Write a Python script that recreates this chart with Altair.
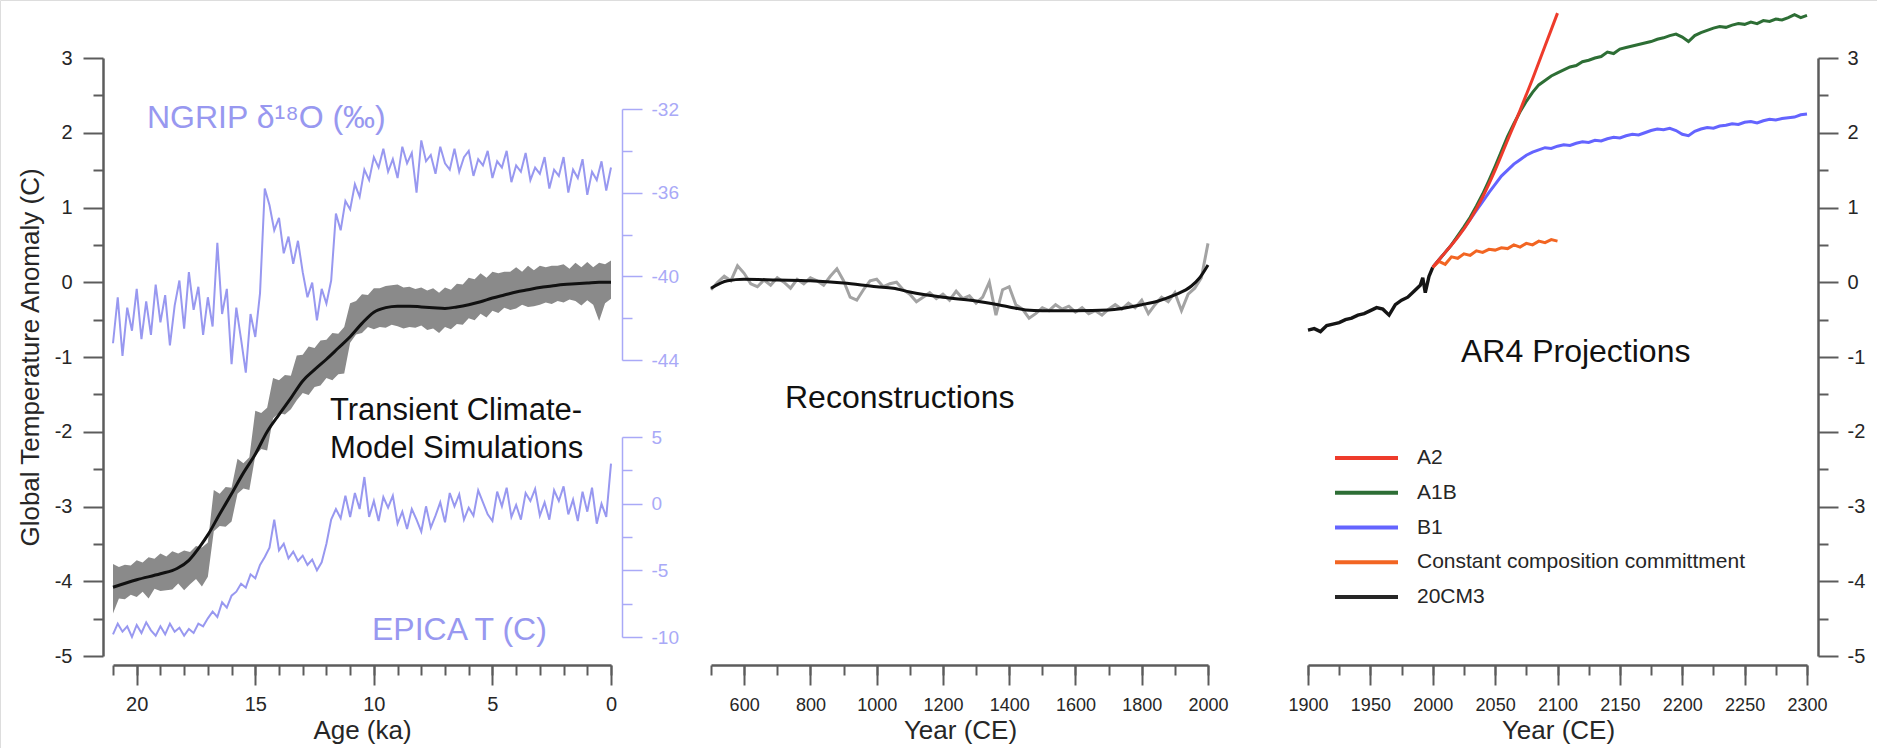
import altair as alt
import pandas as pd

FONT = "Liberation Sans"
AXIS_GRAY = "#5c5c5c"
LABEL = "#262626"
LAV = "#9898f0"
LAV_AXIS = "#a9a9f7"

# ---------------- Left panel: transient model simulations ----------------
band_ka = [round(21.0 - 0.25 * i, 2) for i in range(85)]
band_lower = [-4.43, -4.23, -4.24, -4.18, -4.21, -4.14, -4.23, -4.10, -4.13, -4.12,
              -4.11, -4.03, -4.12, -4.04, -3.97, -4.07, -3.94, -3.33, -3.26, -3.27,
              -3.20, -2.83, -2.76, -2.78, -2.32, -2.23, -2.25, -1.82, -1.75, -1.77,
              -1.70, -1.58, -1.48, -1.51, -1.40, -1.38, -1.28, -1.31, -1.23, -1.22,
              -0.81, -0.70, -0.68, -0.60, -0.63, -0.60, -0.61, -0.57, -0.59, -0.62,
              -0.60, -0.61, -0.58, -0.64, -0.62, -0.68, -0.60, -0.63, -0.56, -0.57,
              -0.48, -0.51, -0.42, -0.47, -0.38, -0.41, -0.34, -0.37, -0.35, -0.30,
              -0.33, -0.32, -0.30, -0.27, -0.29, -0.25, -0.27, -0.23, -0.25, -0.31,
              -0.24, -0.30, -0.52, -0.28, -0.22]
band_upper = [-3.77, -3.81, -3.78, -3.79, -3.72, -3.75, -3.68, -3.70, -3.63, -3.67,
              -3.60, -3.63, -3.59, -3.61, -3.53, -3.55, -3.48, -2.78, -2.83, -2.74,
              -2.75, -2.36, -2.42, -2.34, -1.72, -1.75, -1.68, -1.28, -1.31, -1.24,
              -1.25, -0.98, -0.97, -0.86, -0.88, -0.78, -0.77, -0.68, -0.69, -0.60,
              -0.28, -0.25, -0.16, -0.17, -0.08, -0.08, -0.05, -0.04, -0.03, -0.07,
              -0.06, -0.09, -0.07, -0.11, -0.08, -0.14, -0.07, -0.10, -0.02, -0.03,
              0.06, 0.04, 0.12, 0.06, 0.14, 0.12, 0.14, 0.14, 0.20, 0.14,
              0.22, 0.16, 0.22, 0.20, 0.22, 0.22, 0.24, 0.18, 0.26, 0.20,
              0.27, 0.20, 0.26, 0.24, 0.29]

model_ka = [21, 20, 19, 18.3, 17.8, 17.3, 17.0, 16.5, 16, 15.5, 15, 14.5, 14, 13.5,
            13, 12.5, 12, 11.5, 11, 10.5, 10, 9.5, 9, 8.5, 8, 7.5, 7, 6.5, 6, 5.5,
            5, 4.5, 4, 3.5, 3, 2.5, 2, 1.5, 1, 0.5, 0]
model_temp = [-4.08, -3.98, -3.90, -3.83, -3.72, -3.52, -3.38, -3.10, -2.83, -2.55,
              -2.30, -2.00, -1.77, -1.55, -1.32, -1.17, -1.03, -0.88, -0.73, -0.55,
              -0.40, -0.34, -0.32, -0.32, -0.33, -0.34, -0.35, -0.33, -0.30, -0.26,
              -0.21, -0.17, -0.13, -0.10, -0.07, -0.05, -0.03, -0.02, -0.01, 0.00, 0.00]

proxy_ka = [round(21.0 - 0.2 * i, 1) for i in range(106)]
ngrip_d18o = [-43.2, -41.0, -43.8, -41.5, -42.6, -40.6, -43.0, -41.2, -42.8, -40.4,
              -42.2, -40.9, -43.3, -41.4, -40.2, -42.5, -39.8, -41.6, -40.5, -42.8,
              -41.0, -42.4, -38.4, -41.8, -40.6, -44.2, -41.5, -43.0, -44.6, -41.8,
              -42.9, -40.8, -35.8, -36.6, -37.8, -37.2, -38.9, -38.1, -39.4, -38.3,
              -39.8, -41.0, -40.3, -42.1, -40.6, -41.3, -40.2, -37.0, -37.8, -36.4,
              -36.8, -35.6, -36.2, -34.9, -35.4, -34.3, -34.8, -33.9, -35.0, -34.4,
              -35.3, -33.8, -34.6, -34.1, -36.0, -33.5, -34.5, -34.2, -35.1, -33.8,
              -34.6, -34.9, -33.9, -35.0, -34.3, -34.0, -35.2, -34.4, -34.7, -34.0,
              -35.3, -34.5, -34.8, -34.0, -35.5, -34.7, -35.0, -34.1, -35.4, -34.8,
              -35.1, -34.3, -35.8, -34.9, -35.2, -34.3, -36.0, -34.9, -35.3, -34.4,
              -36.1, -35.0, -35.4, -34.5, -35.9, -34.8]
epica_t = [-9.8, -9.0, -9.6, -9.2, -10.0, -9.1, -9.7, -8.9, -9.5, -9.9,
           -9.2, -9.8, -9.0, -9.6, -9.3, -9.9, -9.4, -9.7, -9.0, -9.2,
           -8.6, -8.1, -8.5, -7.4, -7.8, -6.9, -6.6, -6.0, -6.3, -5.3,
           -5.6, -4.6, -4.0, -3.3, -1.2, -3.5, -3.0, -4.1, -3.6, -4.3,
           -3.9, -4.6, -4.2, -5.0, -4.4, -3.0, -1.2, -0.4, -1.1, 0.6,
           -1.0, 0.8, -0.4, 2.0, -1.0, 0.2, -1.3, 0.5, -0.3, 0.6,
           -1.5, -0.6, -1.9, -0.4, -1.2, -2.1, -0.2, -1.8, -0.9, 0.1,
           -1.4, 0.8, -0.2, 0.7, -1.2, -0.3, -0.9, 1.0, 0.1, -0.8,
           -1.3, 0.9, -0.2, 1.2, -1.0, -0.1, -1.2, 0.8, 0.2, 1.1,
           -0.9, 0.1, -1.2, 1.0, 0.2, 1.3, -0.8, 0.3, -1.3, 0.9,
           -0.6, 1.2, -1.5, 0.0, -1.0, 3.0]

# ---------------- Middle panel: reconstructions ----------------
recon_year = list(range(500, 2001, 20))
recon_temp = [-0.10, 0.00, 0.08, 0.02, 0.22, 0.12, -0.02, -0.06, 0.03, -0.04,
              0.06, 0.00, -0.08, 0.04, -0.02, 0.06, 0.02, -0.04, 0.08, 0.18,
              0.02, -0.20, -0.24, -0.10, 0.02, 0.04, -0.06, -0.02, 0.00, -0.10,
              -0.16, -0.26, -0.20, -0.14, -0.22, -0.16, -0.24, -0.12, -0.22, -0.18,
              -0.28, -0.20, 0.00, -0.44, -0.10, -0.06, -0.30, -0.36, -0.48, -0.42,
              -0.34, -0.38, -0.30, -0.36, -0.32, -0.40, -0.34, -0.42, -0.38, -0.44,
              -0.36, -0.30, -0.36, -0.28, -0.34, -0.24, -0.42, -0.30, -0.20, -0.26,
              -0.14, -0.38, -0.16, -0.08, 0.06, 0.52]
recon_smooth_year = [500, 550, 600, 700, 800, 900, 1000, 1050, 1100, 1200, 1300,
                     1400, 1450, 1500, 1600, 1700, 1800, 1850, 1900, 1950, 1975, 2000]
recon_smooth_temp = [-0.08, 0.02, 0.04, 0.03, 0.02, -0.01, -0.06, -0.08, -0.13, -0.20,
                     -0.25, -0.33, -0.37, -0.38, -0.38, -0.37, -0.30, -0.25, -0.17,
                     -0.05, 0.06, 0.23]

# ---------------- Right panel: AR4 projections ----------------
c20_year = [1900, 1905, 1910, 1915, 1920, 1925, 1930, 1935, 1940, 1945, 1950, 1955,
            1960, 1965, 1970, 1975, 1980, 1985, 1990, 1992, 1994, 1997, 2000]
c20_temp = [-0.64, -0.62, -0.66, -0.58, -0.56, -0.54, -0.50, -0.48, -0.44, -0.42,
            -0.38, -0.34, -0.36, -0.44, -0.30, -0.24, -0.20, -0.12, -0.04, 0.06,
            -0.14, 0.08, 0.20]
a2_year = [2000, 2010, 2020, 2030, 2040, 2050, 2060, 2070, 2080, 2090, 2100]
a2_temp = [0.20, 0.40, 0.60, 0.84, 1.14, 1.50, 1.90, 2.30, 2.72, 3.16, 3.60]
commit_year = list(range(2000, 2101, 5))
commit_temp = [0.20, 0.28, 0.24, 0.34, 0.32, 0.38, 0.36, 0.42, 0.40, 0.44, 0.43,
               0.46, 0.45, 0.50, 0.47, 0.52, 0.50, 0.55, 0.53, 0.57, 0.55]
long_year = list(range(2000, 2301, 5))
a1b_temp = [0.20, 0.30, 0.40, 0.50, 0.62, 0.74, 0.87, 1.02, 1.18, 1.36, 1.55,
            1.75, 1.95, 2.12, 2.28, 2.42, 2.54, 2.64, 2.70, 2.76, 2.80,
            2.84, 2.88, 2.90, 2.95, 2.97, 3.00, 3.02, 3.08, 3.06, 3.12,
            3.14, 3.16, 3.18, 3.20, 3.22, 3.25, 3.27, 3.30, 3.32, 3.28,
            3.22, 3.30, 3.34, 3.37, 3.40, 3.42, 3.41, 3.44, 3.46, 3.45,
            3.48, 3.46, 3.50, 3.49, 3.52, 3.51, 3.54, 3.58, 3.54, 3.57]
b1_temp = [0.20, 0.30, 0.40, 0.50, 0.61, 0.72, 0.84, 0.96, 1.08, 1.20, 1.31,
           1.42, 1.50, 1.58, 1.64, 1.70, 1.74, 1.77, 1.80, 1.79, 1.82,
           1.84, 1.83, 1.86, 1.88, 1.87, 1.90, 1.89, 1.92, 1.94, 1.93,
           1.96, 1.98, 1.97, 2.00, 2.03, 2.05, 2.04, 2.06, 2.03, 1.98,
           1.96, 2.02, 2.05, 2.07, 2.06, 2.09, 2.10, 2.12, 2.11, 2.14,
           2.15, 2.13, 2.16, 2.18, 2.17, 2.19, 2.20, 2.21, 2.24, 2.25]

legend_names = ["A2", "A1B", "B1", "Constant composition committment", "20CM3"]
legend_colors = ["#ee3b2b", "#2d6e35", "#6464ff", "#f26522", "#262626"]

temp_major = [-5, -4, -3, -2, -1, 0, 1, 2, 3]
temp_minor = [-4.5, -3.5, -2.5, -1.5, -0.5, 0.5, 1.5, 2.5]

# ---------------- tables ----------------
df_band = pd.DataFrame({"ka": band_ka, "lo": band_lower, "hi": band_upper})
df_model = pd.DataFrame({"ka": model_ka, "t": model_temp})
df_ngrip = pd.DataFrame({"ka": proxy_ka, "v": ngrip_d18o})
df_epica = pd.DataFrame({"ka": proxy_ka, "v": epica_t})
df_recon = pd.DataFrame({"yr": recon_year, "t": recon_temp})
df_recon_s = pd.DataFrame({"yr": recon_smooth_year, "t": recon_smooth_temp})
df_c20 = pd.DataFrame({"yr": c20_year, "t": c20_temp})
df_a2 = pd.DataFrame({"yr": a2_year, "t": a2_temp})
df_commit = pd.DataFrame({"yr": commit_year, "t": commit_temp})
df_a1b = pd.DataFrame({"yr": long_year, "t": a1b_temp})
df_b1 = pd.DataFrame({"yr": long_year, "t": b1_temp})
df_leg = pd.DataFrame({"name": legend_names})

# ---------------- scales ----------------
def sc(domain, rng):
    return alt.Scale(domain=domain, range=rng, nice=False, zero=False)

x_left = sc([21, 0], [113, 611])
x_mid = sc([500, 2000], [711, 1208])
x_right = sc([1900, 2300], [1308, 1807])
y_temp = sc([-5, 3], [656, 58])
y_ngrip = sc([-44, -32], [360, 109])
y_epica = sc([-10, 5], [637, 437])

LBL = "'' + datum.value"


def bottom_major(values, title, cx, fsize=20):
    return alt.Axis(orient="bottom", offset=-83, values=values, tickSize=20,
                    labelPadding=25, labelBaseline="alphabetic", labelExpr=LBL,
                    labelOverlap=False, labelFlush=False, labelFontSize=fsize,
                    title=title, titleX=cx, titleY=73, titleBaseline="alphabetic",
                    titleAlign="center")


def bottom_minor(values):
    return alt.Axis(orient="bottom", offset=-83, values=values, tickSize=10,
                    labels=False, domain=False, title=None)


def side_axis(orient, offset, values, size, labels=True, color=None, pad=10,
              fsize=20, title=None, **kw):
    opts = dict(orient=orient, offset=offset, values=values, tickSize=size,
                labels=labels, title=title, labelExpr=LBL, labelPadding=pad,
                labelFontSize=fsize, labelOverlap=False, labelFlush=False, **kw)
    if color:
        opts.update(domainColor=color, tickColor=color, labelColor=color,
                    domainWidth=1.5, tickWidth=1.5)
    if not labels:
        opts["domain"] = False
    return alt.Axis(**opts)


# left panel
band = alt.Chart(df_band).mark_area(color="#8a8a8a").encode(
    x=alt.X("ka:Q", scale=x_left,
            axis=bottom_major([20, 15, 10, 5, 0], "Age (ka)", 362)),
    y=alt.Y("lo:Q", scale=y_temp,
            axis=side_axis("left", -103, temp_major, 20, pad=11,
                           title="Global Temperature Anomaly (C)",
                           titleX=-73, titleY=357, titleAngle=270,
                           titleAlign="center", titleBaseline="middle")),
    y2="hi:Q",
)
model = alt.Chart(df_model).mark_line(color="#111111", strokeWidth=3,
                                      interpolate="monotone").encode(
    x=alt.X("ka:Q", scale=x_left, axis=bottom_minor(list(range(0, 22)))),
    y=alt.Y("t:Q", scale=y_temp, axis=side_axis("left", -103, temp_minor, 10, labels=False)),
)
ngrip = alt.Chart(df_ngrip).mark_line(color=LAV, strokeWidth=2).encode(
    x=alt.X("ka:Q", scale=x_left, axis=None),
    y=alt.Y("v:Q", scale=y_ngrip,
            axis=side_axis("right", -1255, [-44, -40, -36, -32], 20,
                           color=LAV_AXIS, pad=9, fsize=19)),
)
ngrip_minor = alt.Chart(df_ngrip).mark_line(opacity=0).encode(
    x=alt.X("ka:Q", scale=x_left, axis=None),
    y=alt.Y("v:Q", scale=y_ngrip,
            axis=side_axis("right", -1255, [-42, -38, -34], 10, labels=False,
                           color=LAV_AXIS)),
)
epica = alt.Chart(df_epica).mark_line(color=LAV, strokeWidth=2).encode(
    x=alt.X("ka:Q", scale=x_left, axis=None),
    y=alt.Y("v:Q", scale=y_epica,
            axis=side_axis("right", -1255, [-10, -5, 0, 5], 20,
                           color=LAV_AXIS, pad=9, fsize=19)),
)
epica_minor = alt.Chart(df_epica).mark_line(opacity=0).encode(
    x=alt.X("ka:Q", scale=x_left, axis=None),
    y=alt.Y("v:Q", scale=y_epica,
            axis=side_axis("right", -1255, [-7.5, -2.5, 2.5], 10, labels=False,
                           color=LAV_AXIS)),
)

# middle panel
recon = alt.Chart(df_recon).mark_line(color="#a3a3a3", strokeWidth=3).encode(
    x=alt.X("yr:Q", scale=x_mid,
            axis=bottom_major(list(range(600, 2001, 200)), "Year (CE)", 960, fsize=18)),
    y=alt.Y("t:Q", scale=y_temp, axis=None),
)
recon_s = alt.Chart(df_recon_s).mark_line(color="#111111", strokeWidth=3,
                                          interpolate="monotone").encode(
    x=alt.X("yr:Q", scale=x_mid, axis=bottom_minor(list(range(500, 2001, 100)))),
    y=alt.Y("t:Q", scale=y_temp, axis=None),
)

# right panel
c20 = alt.Chart(df_c20).mark_line(color="#151515", strokeWidth=3.4).encode(
    x=alt.X("yr:Q", scale=x_right,
            axis=bottom_major(list(range(1900, 2301, 50)), "Year (CE)", 1558, fsize=18)),
    y=alt.Y("t:Q", scale=y_temp,
            axis=side_axis("right", -59, temp_major, 20, pad=9)),
)
b1 = alt.Chart(df_b1).mark_line(color=legend_colors[2], strokeWidth=3).encode(
    x=alt.X("yr:Q", scale=x_right, axis=bottom_minor(list(range(1900, 2301, 25)))),
    y=alt.Y("t:Q", scale=y_temp,
            axis=side_axis("right", -59, temp_minor, 10, labels=False)),
)
a1b = alt.Chart(df_a1b).mark_line(color=legend_colors[1], strokeWidth=3).encode(
    x=alt.X("yr:Q", scale=x_right, axis=None),
    y=alt.Y("t:Q", scale=y_temp, axis=None),
)
commit = alt.Chart(df_commit).mark_line(color=legend_colors[3], strokeWidth=3).encode(
    x=alt.X("yr:Q", scale=x_right, axis=None),
    y=alt.Y("t:Q", scale=y_temp, axis=None),
)
a2 = alt.Chart(df_a2).mark_line(color=legend_colors[0], strokeWidth=3,
                                interpolate="monotone").encode(
    x=alt.X("yr:Q", scale=x_right, axis=None),
    y=alt.Y("t:Q", scale=y_temp, axis=None),
)

leg_y = alt.Y("name:N", sort=legend_names, axis=None,
              scale=alt.Scale(type="point", domain=legend_names, range=[458, 597], padding=0))
leg_rules = alt.Chart(df_leg).mark_rule(strokeWidth=4).encode(
    x=alt.value(1335), x2=alt.value(1398), y=leg_y,
    color=alt.Color("name:N", legend=None,
                    scale=alt.Scale(domain=legend_names, range=legend_colors)),
)
leg_text = alt.Chart(df_leg).mark_text(align="left", baseline="middle", fontSize=21,
                                       font=FONT, color=LABEL).encode(
    x=alt.value(1417), y=leg_y, text="name:N",
)


def note(text, x, y, color="#111111", size=32):
    return alt.Chart(pd.DataFrame({"t": [text]})).mark_text(
        align="left", baseline="alphabetic", fontSize=size, font=FONT, color=color
    ).encode(x=alt.value(x), y=alt.value(y), text="t:N")


notes = [
    note("NGRIP δ¹⁸O (‰)", 147, 128, color=LAV),
    note("EPICA T (C)", 372, 640, color=LAV),
    note("Transient Climate-", 330, 420, size=31),
    note("Model Simulations", 330, 458, size=31),
    note("Reconstructions", 785, 408),
    note("AR4 Projections", 1461, 362),
]

chart = alt.layer(
    band, model, ngrip, ngrip_minor, epica, epica_minor,
    recon, recon_s, c20, b1, a1b, commit, a2, leg_rules, leg_text, *notes
).resolve_scale(
    x="independent", y="independent", color="independent"
).properties(
    width=1877, height=748, padding=0,
    autosize=alt.AutoSizeParams(type="none"),
).configure_view(stroke=None).configure(background="white").configure_axis(
    grid=False, labelFont=FONT, titleFont=FONT, labelColor=LABEL, titleColor=LABEL,
    domainColor=AXIS_GRAY, tickColor=AXIS_GRAY, domainWidth=2.5, tickWidth=2,
    titleFontSize=26, titleFontWeight="normal",
)

chart.save("out.html", embed_options={"renderer": "svg", "actions": False})
